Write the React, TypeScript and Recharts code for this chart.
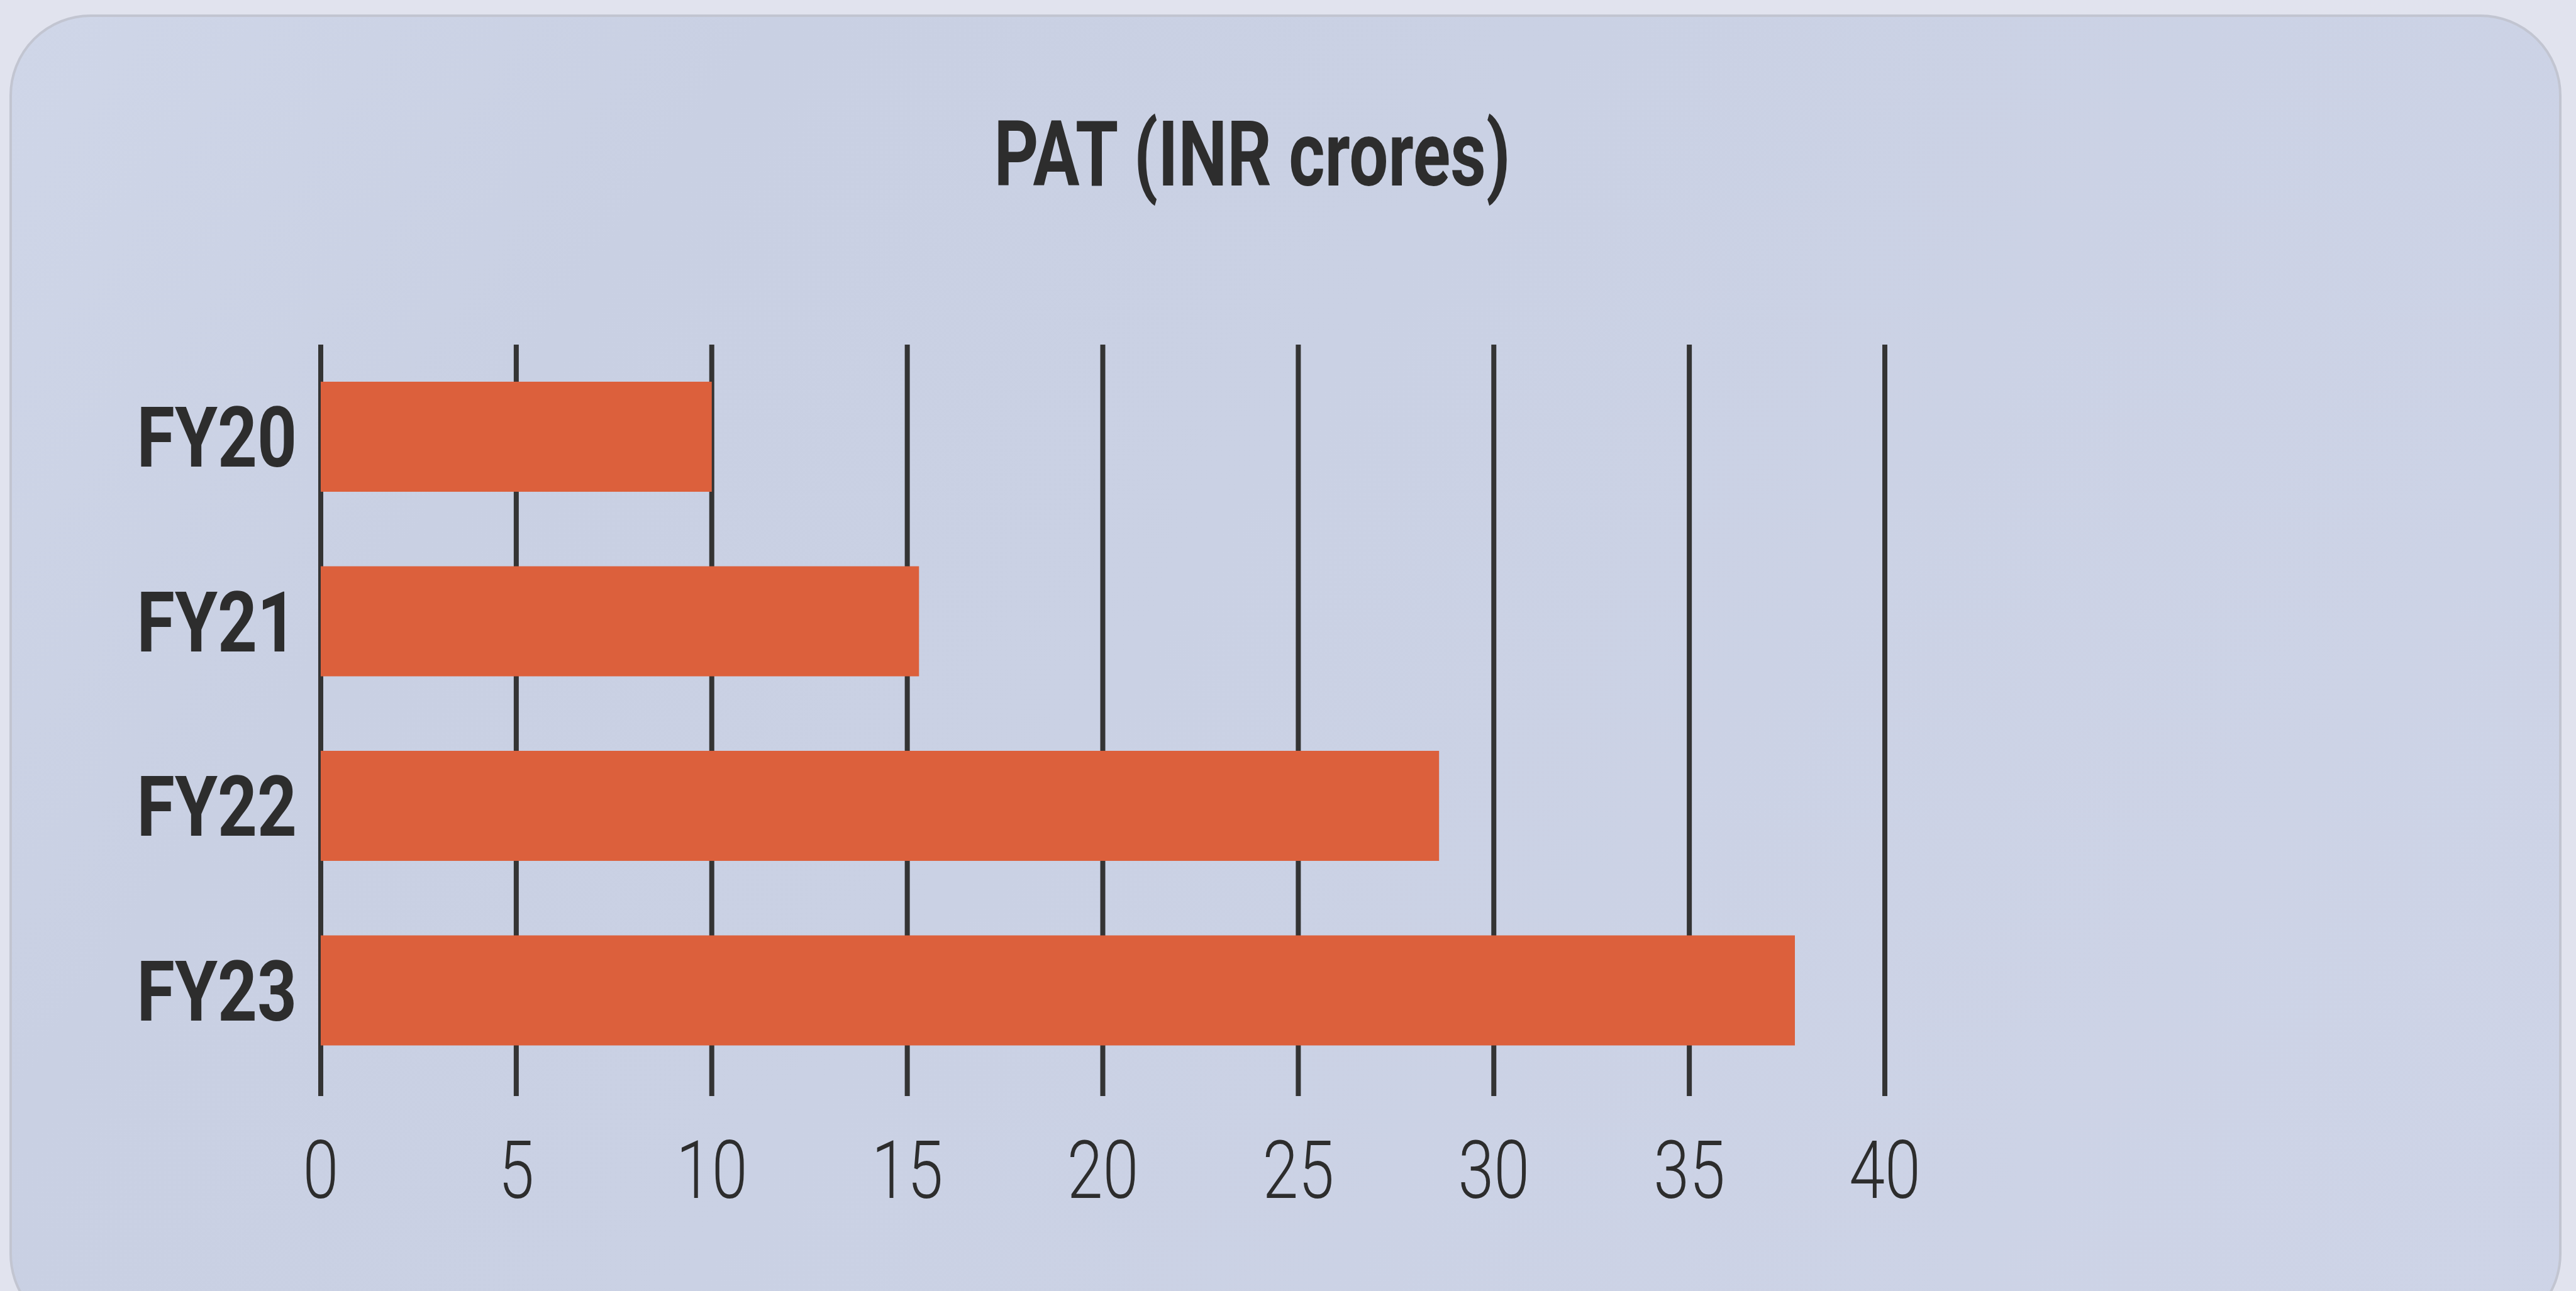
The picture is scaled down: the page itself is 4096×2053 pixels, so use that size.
import { Bar, BarChart, CartesianGrid, XAxis, YAxis } from "recharts";

const years = ["FY20", "FY21", "FY22", "FY23"];
const pat = [10.0, 15.3, 28.6, 37.7];
const xTicks = [0, 5, 10, 15, 20, 25, 30, 35, 40];

const data = years.map((year, i) => ({ year, pat: pat[i] }));

const W = 4096;
const H = 2053;
const INK = "#2d2d2d";

function YearTick({ x, y, payload }: any) {
    return (
        <g transform={`translate(${x},${y}) scale(0.82,1)`}>
            <text
                x={0}
                y={0}
                dy="0.355em"
                textAnchor="end"
                fill={INK}
                fontFamily="Roboto, sans-serif"
                fontWeight={700}
                fontSize={134}
            >
                {payload.value}
            </text>
        </g>
    );
}

function ValueTick({ x, y, payload }: any) {
    return (
        <g transform={`translate(${x},${y}) scale(0.8,1)`}>
            <text
                x={0}
                y={0}
                dy={91}
                textAnchor="middle"
                fill={INK}
                fontFamily="Roboto, sans-serif"
                fontWeight={300}
                fontSize={128}
            >
                {payload.value}
            </text>
        </g>
    );
}

export default function App() {
    return (
        <div
            style={{
                position: "fixed",
                left: 0,
                top: 0,
                width: W,
                height: H,
                overflow: "hidden",
                background: "#e1e3ee",
            }}
        >
            <div
                style={{
                    position: "absolute",
                    left: 15,
                    top: 23,
                    width: 4058,
                    height: 2100,
                    boxSizing: "border-box",
                    borderRadius: 129,
                    border: "4px solid #c2c5d1",
                    background:
                        "linear-gradient(125deg, #cfd6e8 0%, #c9d0e3 22%, #cad1e4 45%, #ced4e7 100%)",
                }}
            />
            <svg width={W} height={H} style={{ position: "absolute", left: 0, top: 0 }}>
                <g transform="translate(1991,295) scale(0.76,1)">
                    <text
                        x={0}
                        y={0}
                        textAnchor="middle"
                        fill={INK}
                        fontFamily="Roboto, sans-serif"
                        fontWeight={700}
                        fontSize={145}
                    >
                        PAT (INR crores)
                    </text>
                </g>
            </svg>
            <div style={{ position: "absolute", left: 0, top: 0 }}>
                <BarChart
                    width={W}
                    height={H}
                    data={data}
                    layout="vertical"
                    margin={{ top: 548, right: 1099, bottom: 110, left: 210 }}
                    barSize={175}
                >
                    <CartesianGrid horizontal={false} stroke="#343434" strokeWidth={8} fill="none" />
                    <XAxis
                        type="number"
                        domain={[0, 40]}
                        ticks={xTicks}
                        height={200}
                        axisLine={false}
                        tickLine={false}
                        tickSize={0}
                        tickMargin={71}
                        interval={0}
                        tick={<ValueTick />}
                    />
                    <YAxis
                        type="category"
                        dataKey="year"
                        width={300}
                        axisLine={false}
                        tickLine={false}
                        tickSize={0}
                        tickMargin={38}
                        interval={0}
                        padding={{ top: 0, bottom: 21 }}
                        tick={<YearTick />}
                    />
                    <Bar dataKey="pat" fill="#dc603c" isAnimationActive={false} />
                </BarChart>
            </div>
        </div>
    );
}
